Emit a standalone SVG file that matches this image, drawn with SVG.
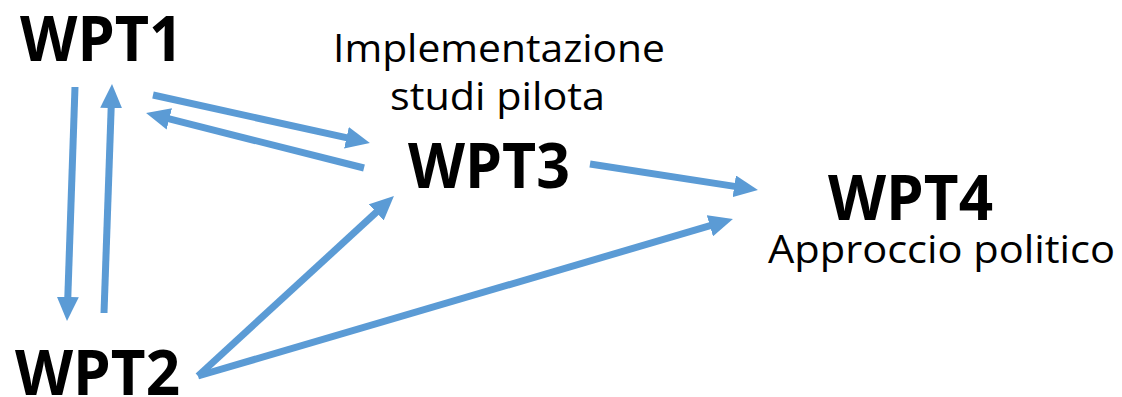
<svg xmlns="http://www.w3.org/2000/svg" width="1122" height="397" viewBox="0 0 1122 397">
<style>
.t{font-family:"Open Sans","Liberation Sans",sans-serif;font-weight:700;font-size:63px;fill:#000}
.s{font-family:"Open Sans","Liberation Sans",sans-serif;font-weight:400;font-size:39px;fill:#000}
.c{stroke:#5B9BD5;stroke-width:7;fill:none;marker-end:url(#ah)}
</style>
<defs>
<marker id="ah" markerUnits="strokeWidth" markerWidth="3.43" markerHeight="3.14" refX="0.3" refY="1.57" orient="auto" viewBox="0 0 3.43 3.14">
<path d="M0,0 L3.43,1.57 L0,3.14 z" fill="#5B9BD5"/>
</marker>
</defs>
<rect width="1122" height="397" fill="#fff"/>
<g id="connectors">
<line class="c" x1="75" y1="87" x2="67.75" y2="299"/>
<line class="c" x1="104" y1="313" x2="111.23" y2="106"/>
<line class="c" x1="153" y1="95" x2="348.5" y2="138.2"/>
<line class="c" x1="364" y1="168" x2="167.3" y2="118.4"/>
<line class="c" x1="198" y1="376" x2="377.8" y2="210.9"/>
<line class="c" x1="198" y1="376" x2="711.9" y2="225.2"/>
<line class="c" x1="590" y1="164" x2="736.3" y2="186.6"/>
</g>
<g id="WPT1"><text class="t" x="20" y="61" textLength="163" lengthAdjust="spacingAndGlyphs">WPT1</text></g>
<g id="WPT2"><text class="t" x="15" y="395" textLength="165" lengthAdjust="spacingAndGlyphs">WPT2</text></g>
<g id="WPT3">
<text class="s" x="333" y="62" textLength="332" lengthAdjust="spacingAndGlyphs">Implementazione</text>
<text class="s" x="390" y="110" textLength="215" lengthAdjust="spacingAndGlyphs">studi pilota</text>
<text class="t" x="408" y="188" textLength="162" lengthAdjust="spacingAndGlyphs">WPT3</text>
</g>
<g id="WPT4">
<text class="t" x="828" y="220" textLength="165" lengthAdjust="spacingAndGlyphs">WPT4</text>
<text class="s" x="768" y="263" textLength="347" lengthAdjust="spacingAndGlyphs">Approccio politico</text>
</g>
</svg>
